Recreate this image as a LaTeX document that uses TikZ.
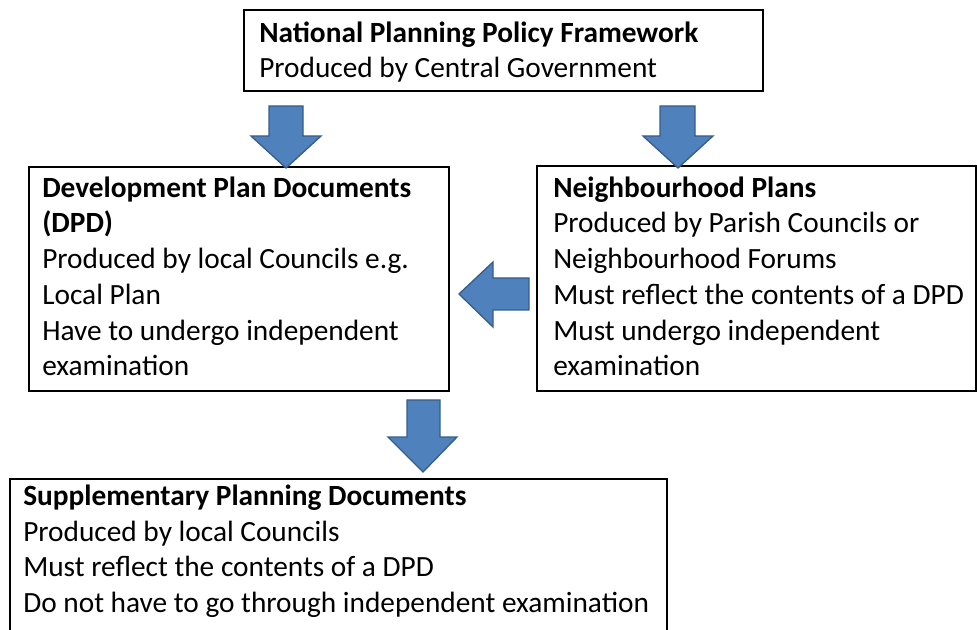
\documentclass[tikz,border=0pt]{standalone}
\usepackage{fontspec}
\setmainfont{Carlito}
\begin{document}
\begin{tikzpicture}[x=0.75pt,y=-0.75pt,
  box/.style={draw=black,line width=1.1pt,fill=white},
  txt/.style={anchor=north west,inner sep=0pt,align=left,font=\fontsize{22pt}{26.8pt}\selectfont},
  blockarrow/.style={fill=arrowfill,draw=arrowdraw,line width=1pt,line join=miter}]
\definecolor{arrowfill}{HTML}{4F81BD}
\definecolor{arrowdraw}{HTML}{385D8A}
\useasboundingbox (0,0) rectangle (977,630);
\clip (0,0) rectangle (977,630);
% boxes
\draw[box] (244,10) rectangle (763,91);
\draw[box] (29,167) rectangle (449,391);
\draw[box] (537,166) rectangle (976,391);
\draw[box] (10,479) rectangle (667,660);
% texts
\node[txt] (nppf) at (259,14) {\rule{0pt}{21pt}\textbf{National Planning Policy Framework}\\Produced by Central Government};
\node[txt] (dpd) at (42,169) {\rule{0pt}{21pt}\textbf{Development Plan Documents}\\\textbf{(DPD)}\\Produced by local Councils e.g.\\Local Plan\\Have to undergo independent\\examination};
\node[txt] (np) at (553,169) {\rule{0pt}{21pt}\textbf{Neighbourhood Plans}\\Produced by Parish Councils or\\Neighbourhood Forums\\Must reflect the contents of a DPD\\Must undergo independent\\examination};
\node[txt] (spd) at (23,477) {\rule{0pt}{21pt}\textbf{Supplementary Planning Documents}\\Produced by local Councils\\Must reflect the contents of a DPD\\Do not have to go through independent examination};
% arrows
\draw[blockarrow] (269,106) -- (303,106) -- (303,136) -- (321,136) -- (286,168) -- (251,136) -- (269,136) -- cycle;
\draw[blockarrow] (660,106) -- (695,106) -- (695,136) -- (713,136) -- (678,168) -- (643,136) -- (660,136) -- cycle;
\draw[blockarrow] (529,278) -- (529,310) -- (493,310) -- (493,327) -- (459,294) -- (493,262) -- (493,278) -- cycle;
\draw[blockarrow] (407,400) -- (440,400) -- (440,437) -- (457,437) -- (423,472) -- (388,437) -- (407,437) -- cycle;
\end{tikzpicture}
\end{document}
